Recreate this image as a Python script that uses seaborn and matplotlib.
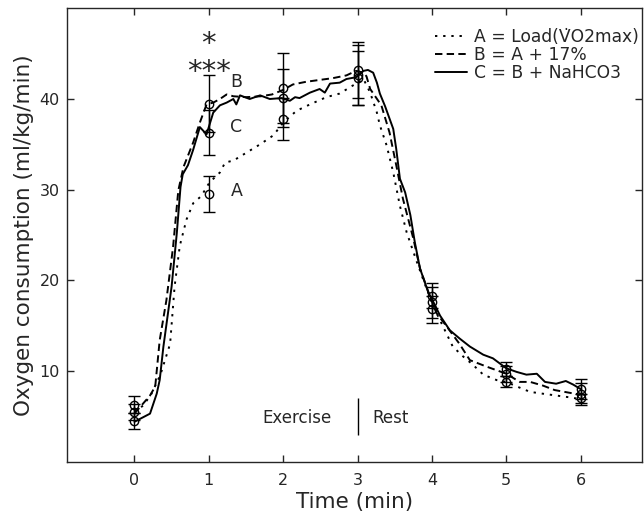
import pandas as pd
import seaborn as sns
import matplotlib.pyplot as plt

# continuous traces (time in min, VO2 in ml/kg/min)
t_a = [0, 0.12, 0.23, 0.35, 0.48, 0.54, 0.61, 0.70, 0.79, 0.90,
       1.01, 1.15, 1.22, 1.33, 1.51, 1.69, 1.87, 2.00, 2.18, 2.36,
       2.58, 2.76, 2.94, 3.08, 3.17, 3.26, 3.30, 3.39, 3.48, 3.57,
       3.66, 3.79, 3.90, 4.02, 4.15, 4.28, 4.42, 4.55, 4.69, 4.87,
       5.00, 5.14, 5.32, 5.49, 5.67, 5.85, 6.00]
v_a = [5.5, 6.2, 7.5, 9.6, 13.0, 19.3, 23.8, 26.7, 28.5, 29.3,
       30.8, 31.9, 33.0, 33.2, 34.1, 35.0, 36.0, 37.4, 38.7, 39.4,
       40.2, 40.6, 41.5, 42.2, 40.7, 38.5, 37.1, 34.9, 31.9, 28.2,
       25.3, 22.2, 19.7, 17.1, 14.9, 12.7, 11.6, 10.7, 9.6, 9.0,
       8.8, 8.3, 7.7, 7.5, 7.3, 7.1, 6.9]

t_b = [0, 0.21, 0.28, 0.34, 0.43, 0.52, 0.59, 0.66, 0.79, 0.88,
       0.97, 1.06, 1.15, 1.24, 1.33, 1.50, 1.70, 1.85, 2.00, 2.13,
       2.31, 2.49, 2.67, 2.85, 2.98, 3.08, 3.12, 3.17, 3.32, 3.43,
       3.52, 3.61, 3.75, 3.84, 3.97, 4.06, 4.20, 4.37, 4.51, 4.73,
       5.00, 5.18, 5.32, 5.49, 5.65, 5.85, 6.00]
v_b = [5.3, 7.3, 8.3, 13.4, 17.8, 23.7, 29.9, 32.5, 35.2, 37.4,
       39.4, 39.6, 40.0, 40.5, 40.3, 40.2, 40.3, 40.5, 41.0, 41.6,
       41.9, 42.1, 42.3, 42.6, 43.1, 42.9, 42.5, 41.1, 39.3, 36.3,
       32.7, 29.0, 24.6, 21.3, 18.3, 16.4, 14.9, 13.0, 11.2, 10.5,
       9.7, 8.8, 8.8, 8.4, 7.9, 7.6, 7.4]

t_c = [0, 0.21, 0.30, 0.34, 0.39, 0.50, 0.57, 0.62, 0.65, 0.72,
       0.79, 0.88, 0.97, 1.06, 1.15, 1.24, 1.33, 1.37, 1.42, 1.55,
       1.69, 1.82, 1.98, 2.09, 2.16, 2.22, 2.36, 2.49, 2.56, 2.63,
       2.76, 2.85, 2.98, 3.08, 3.14, 3.21, 3.26, 3.30, 3.37, 3.48,
       3.52, 3.57, 3.64, 3.71, 3.77, 3.84, 3.95, 4.02, 4.11, 4.24,
       4.37, 4.51, 4.69, 4.82, 5.00, 5.14, 5.27, 5.41, 5.52, 5.67,
       5.80, 5.90, 6.00]
v_c = [4.4, 5.3, 7.5, 9.0, 12.7, 19.3, 25.2, 30.3, 31.7, 32.7,
       34.4, 36.9, 36.1, 38.5, 39.3, 39.6, 40.0, 39.4, 40.4, 40.0,
       40.4, 40.0, 40.1, 39.8, 40.2, 40.1, 40.7, 41.1, 40.7, 41.7,
       41.8, 42.2, 42.4, 43.1, 43.2, 42.9, 41.8, 40.6, 39.2, 36.7,
       34.5, 31.2, 29.7, 27.2, 24.2, 21.3, 18.7, 17.6, 16.1, 14.5,
       13.6, 12.7, 11.8, 11.4, 10.3, 9.9, 9.6, 9.7, 8.8, 8.6,
       8.9, 8.5, 8.0]

# mean +/- SD at whole minutes
t_pts = [0, 1, 2, 3, 4, 5, 6]
a_mean = [5.5, 29.5, 37.8, 42.3, 16.8, 8.8, 7.0]
a_err = [0.9, 2.0, 2.3, 3.0, 1.5, 0.6, 0.5]
b_mean = [6.3, 39.5, 41.2, 43.2, 17.6, 9.7, 7.5]
b_err = [0.9, 3.1, 3.9, 3.1, 1.7, 0.9, 1.2]
c_mean = [4.5, 36.3, 40.1, 42.6, 18.3, 10.2, 8.0]
c_err = [0.9, 2.5, 3.2, 3.3, 1.4, 0.8, 1.1]

labels = ["A = Load(V\u0307O2max)", "B = A + 17%", "C = B + NaHCO3"]

sns.set_style("ticks")
plt.rcParams['font.family'] = ['DejaVu Sans']
plt.rcParams['axes.linewidth'] = 1.0

traces = pd.concat([
    pd.DataFrame({'time': t_a, 'vo2': v_a, 'cond': labels[0]}),
    pd.DataFrame({'time': t_b, 'vo2': v_b, 'cond': labels[1]}),
    pd.DataFrame({'time': t_c, 'vo2': v_c, 'cond': labels[2]}),
])

fig = plt.figure(figsize=(6.44, 5.19), dpi=100)
ax = fig.add_axes([0.1036, 0.1104, 0.8928, 0.8736])

sns.lineplot(data=traces, x='time', y='vo2', style='cond', style_order=labels,
             dashes={labels[0]: (1.2, 3.0), labels[1]: (3.8, 2.2), labels[2]: ''},
             color='black', lw=1.4, estimator=None, sort=False, ax=ax)

for m, e in [(a_mean, a_err), (b_mean, b_err), (c_mean, c_err)]:
    ax.errorbar(t_pts, m, yerr=e, fmt='o', mfc='none', mec='black', ms=6,
                mew=1.0, ecolor='black', elinewidth=1.0, capsize=4, capthick=1.0)

handles, _ = ax.get_legend_handles_labels()
ax.legend(handles[-3:], labels, loc='upper right', bbox_to_anchor=(1.0, 0.962),
          frameon=False, fontsize=12.3, handlelength=1.9, handletextpad=0.4,
          labelspacing=0.0, borderaxespad=0.15, borderpad=0)

# curve labels and significance marks
ax.text(1.37, 41.9, 'B', ha='center', va='center', fontsize=12.5)
ax.text(1.37, 36.9, 'C', ha='center', va='center', fontsize=12.5)
ax.text(1.37, 29.9, 'A', ha='center', va='center', fontsize=12.5)
ax.text(1.0, 46.1, '*', ha='center', va='center', fontsize=21)
ax.text(1.0, 43.0, '***', ha='center', va='center', fontsize=21)

# exercise / rest divider
ax.vlines(3, 2.9, 7.0, color='black', lw=1.0)
ax.text(2.65, 4.8, 'Exercise', ha='right', va='center', fontsize=12)
ax.text(3.2, 4.8, 'Rest', ha='left', va='center', fontsize=12)

ax.set_xlim(-0.91, 6.82)
ax.set_ylim(0, 50)
ax.set_xticks(t_pts)
ax.set_yticks([10, 20, 30, 40])
ax.tick_params(direction='in', top=True, right=True, length=5, width=1,
               labelsize=11.5)
ax.tick_params(axis='x', pad=8)
ax.tick_params(axis='y', pad=5)
for s in ax.spines.values():
    s.set_visible(True)
ax.set_xlabel('Time (min)', fontsize=15.5, labelpad=3)
ax.set_ylabel('Oxygen consumption (ml/kg/min)', fontsize=15.5, labelpad=4)

fig.savefig('out.png', dpi=100)
